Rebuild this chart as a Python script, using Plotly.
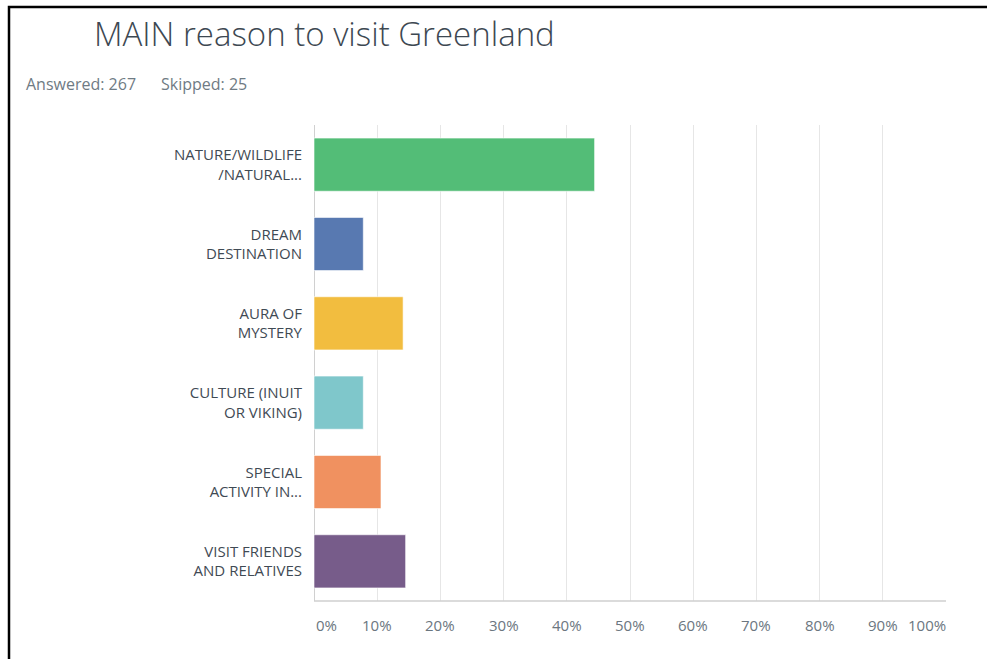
import plotly.graph_objects as go

# Survey question: MAIN reason to visit Greenland
categories = [
    "NATURE/WILDLIFE<br>/NATURAL...",
    "DREAM<br>DESTINATION",
    "AURA OF<br>MYSTERY",
    "CULTURE (INUIT<br>OR VIKING)",
    "SPECIAL<br>ACTIVITY IN...",
    "VISIT FRIENDS<br>AND RELATIVES",
]
percent = [44.4, 7.8, 14.1, 7.8, 10.6, 14.5]
bar_colors = ["#53BD77", "#5879B1", "#F2BD3F", "#7FC7CB", "#F09160", "#775C8A"]

tick_values = [0, 10, 20, 30, 40, 50, 60, 70, 80, 90, 100]
tick_labels = ["0%", "10%", "20%", "30%", "40%", "50%", "60%", "70%", "80%", "90%", "100%"]

answered = 267
skipped = 25

W, H = 987, 659
L, R, T, B = 314, 41, 125, 58
FONT = "Open Sans"

fig = go.Figure(
    go.Bar(
        x=percent,
        y=categories,
        orientation="h",
        marker=dict(color=bar_colors, line=dict(color="rgba(255,255,255,0.6)", width=1)),
        hoverinfo="x+y",
    )
)

# x tick labels: first left-aligned, last right-aligned, others centered
tick_annotations = []
for i, (v, t) in enumerate(zip(tick_values, tick_labels)):
    anchor = "left" if i == 0 else ("right" if i == len(tick_values) - 1 else "center")
    tick_annotations.append(
        dict(
            x=v, y=0, xref="x", yref="paper", text=t, showarrow=False,
            xanchor=anchor, yanchor="middle", yshift=-24,
            xshift=2 if anchor == "right" else 0,
            font=dict(family=FONT, size=15, color="#6b7680"),
        )
    )

pw = W - L - R
ph = H - T - B


def px_x(p):
    return (p - L) / pw


def px_y(p):
    return (H - B - p) / ph


fig.update_layout(
    width=W,
    height=H,
    margin=dict(l=L, r=R, t=T, b=B, pad=0),
    paper_bgcolor="white",
    plot_bgcolor="white",
    showlegend=False,
    bargap=0.33,
    xaxis=dict(
        range=[0, 100],
        tickvals=tick_values,
        showticklabels=False,
        showgrid=True,
        gridcolor="#e6e6e6",
        gridwidth=1,
        zeroline=True,
        zerolinecolor="#d0d0d0",
        zerolinewidth=1,
        showline=False,
        fixedrange=True,
    ),
    yaxis=dict(
        categoryorder="array",
        categoryarray=categories[::-1],
        autorange=False,
        range=[-0.5, len(categories) - 0.5],
        showgrid=False,
        zeroline=False,
        showline=False,
        ticks="",
        ticklabelstandoff=11,
        tickfont=dict(family=FONT, size=15, color="#3f4a54"),
        fixedrange=True,
    ),
    annotations=tick_annotations + [
        dict(
            x=px_x(92), y=px_y(33), xref="paper", yref="paper",
            text="MAIN reason to visit Greenland", showarrow=False,
            xanchor="left", yanchor="middle",
            font=dict(family=FONT, size=33, color="#3d4852", weight=300),
        ),
        dict(
            x=px_x(24), y=px_y(84), xref="paper", yref="paper",
            text=f"Answered: {answered}&nbsp;&nbsp;&nbsp;&nbsp;&nbsp;&nbsp;Skipped: {skipped}",
            showarrow=False, xanchor="left", yanchor="middle",
            font=dict(family=FONT, size=16, color="#6f7b84"),
        ),
    ],
    shapes=[
        # bottom axis line
        dict(type="line", xref="paper", yref="paper", x0=0, x1=1, y0=0, y1=0,
             line=dict(color="#cfcfcf", width=1.5)),
        # outer frame
        dict(type="rect", xref="paper", yref="paper",
             x0=px_x(9), x1=px_x(1000), y0=px_y(680), y1=px_y(7),
             line=dict(color="black", width=2.5), layer="above"),
    ],
)

fig.write_html("out.html")
